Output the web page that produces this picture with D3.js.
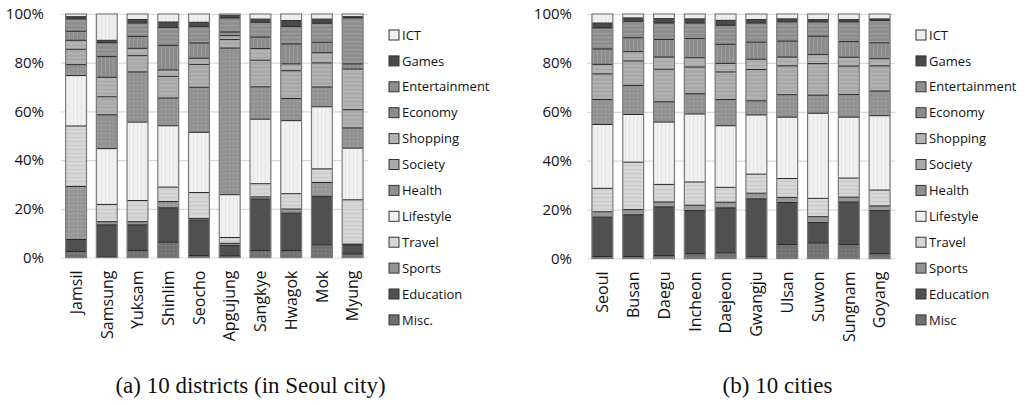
<!DOCTYPE html>
<html>
<head>
<meta charset="utf-8">
<script src="https://cdn.jsdelivr.net/npm/d3@7"></script>
<style>
  body { margin: 0; background: #fff; }
  svg { display: block; }
  .tick text { fill: #111; }
</style>
</head>
<body>
<svg id="chart" width="1027" height="405"></svg>
<script>
// stack order, bottom to top
const keys = ["Misc", "Education", "Sports", "Travel", "Lifestyle", "Health", "Society", "Shopping", "Economy", "Entertainment", "Games", "ICT"];

const districts = ["Jamsil", "Samsung", "Yuksam", "Shinlim", "Seocho", "Apgujung", "Sangkye", "Hwagok", "Mok", "Myung"];
const districtMisc          = [2.5, 0.3, 2.9, 6.3, 0.8, 0.7, 2.9, 2.9, 5.2, 1.5];
const districtEducation     = [4.9, 13.1, 10.5, 14.1, 14.5, 4.2, 21.1, 15.3, 19.9, 3.7];
const districtSports        = [21.8, 1.3, 1.3, 2.6, 0.7, 0.9, 0.9, 1.7, 5.7, 0.3];
const districtTravel        = [24.8, 7.1, 8.7, 5.9, 10.7, 2.4, 5.4, 6.3, 5.6, 18.2];
const districtLifestyle     = [20.7, 22.9, 32.2, 25.2, 24.7, 17.6, 26.5, 30.0, 25.5, 21.2];
const districtHealth        = [4.5, 13.9, 20.6, 11.4, 18.5, 60.2, 13.3, 9.1, 8.1, 8.3];
const districtSociety       = [6.3, 7.4, 6.7, 8.9, 9.4, 3.5, 10.9, 11.4, 9.9, 7.5];
const districtShopping      = [3.7, 8.0, 3.0, 2.6, 2.5, 1.6, 4.8, 2.8, 4.2, 16.7];
const districtEconomy       = [3.7, 8.5, 4.9, 10.1, 6.3, 1.5, 4.7, 8.2, 4.3, 2.1];
const districtEntertainment = [5.1, 5.7, 5.5, 7.4, 6.7, 5.8, 6.1, 7.2, 7.8, 18.9];
const districtGames         = [0.9, 1.0, 1.4, 2.2, 1.8, 1.1, 1.3, 2.4, 1.7, 0.5];
const districtICT           = [1.1, 10.8, 2.3, 3.3, 3.4, 0.5, 2.1, 2.7, 2.1, 1.1];

const cities = ["Seoul", "Busan", "Daegu", "Incheon", "Daejeon", "Gwangju", "Ulsan", "Suwon", "Sungnam", "Goyang"];
const cityMisc          = [0.8, 0.8, 1.2, 2.0, 2.3, 0.7, 5.7, 6.4, 5.7, 2.0];
const cityEducation     = [16.1, 17.1, 19.9, 17.6, 18.4, 23.7, 17.2, 8.3, 17.4, 17.6];
const citySports        = [2.2, 2.1, 2.0, 2.2, 2.3, 2.3, 2.1, 2.4, 2.0, 1.9];
const cityTravel        = [9.6, 19.4, 7.2, 9.5, 6.1, 7.8, 7.7, 7.5, 7.8, 6.5];
const cityLifestyle     = [26.1, 19.5, 25.5, 27.8, 25.2, 24.2, 25.1, 34.8, 24.9, 30.4];
const cityHealth        = [10.2, 11.9, 8.3, 8.3, 10.7, 5.8, 9.2, 7.4, 9.3, 10.1];
const citySociety       = [10.5, 10.0, 13.3, 10.9, 11.3, 12.8, 11.8, 12.9, 11.6, 10.3];
const cityShopping      = [3.9, 3.8, 5.0, 3.8, 3.5, 4.2, 3.6, 3.7, 3.6, 2.9];
const cityEconomy       = [6.3, 5.7, 7.2, 7.9, 7.8, 7.0, 6.5, 7.5, 6.4, 6.5];
const cityEntertainment = [8.6, 6.7, 6.7, 6.3, 7.8, 7.8, 7.9, 5.9, 8.1, 9.1];
const cityGames         = [2.0, 1.4, 1.8, 1.7, 2.0, 1.4, 1.2, 0.9, 0.9, 0.7];
const cityICT           = [3.7, 1.6, 1.9, 2.0, 2.6, 2.3, 2.0, 2.3, 2.3, 2.0];

const yTicks = [0, 0.2, 0.4, 0.6, 0.8, 1];
const legendA = ["ICT", "Games", "Entertainment", "Economy", "Shopping", "Society", "Health", "Lifestyle", "Travel", "Sports", "Education", "Misc."];
const legendB = ["ICT", "Games", "Entertainment", "Economy", "Shopping", "Society", "Health", "Lifestyle", "Travel", "Sports", "Education", "Misc"];

// build rows for d3.stack
function buildRows(cats, cols) {
    return cats.map((c, i) => {
        let row = { name: c };
        keys.forEach((k, j) => { row[k] = cols[j][i]; });
        return row;
    });
}
const districtRows = buildRows(districts, [districtMisc, districtEducation, districtSports, districtTravel, districtLifestyle,
    districtHealth, districtSociety, districtShopping, districtEconomy, districtEntertainment, districtGames, districtICT]);
const cityRows = buildRows(cities, [cityMisc, cityEducation, citySports, cityTravel, cityLifestyle,
    cityHealth, citySociety, cityShopping, cityEconomy, cityEntertainment, cityGames, cityICT]);

// grayscale fills, with a light texture like the original
const fills = {
    Misc:          { base: "#6e6e6e", alt: "#7c7c7c", kind: "x" },
    Education:     { base: "#505050", alt: "#555555", kind: "none" },
    Sports:        { base: "#939393", alt: "#a0a0a0", kind: "x" },
    Travel:        { base: "#d6d6d6", alt: "#c9c9c9", kind: "h" },
    Lifestyle:     { base: "#f1f1f1", alt: "#e5e5e5", kind: "v" },
    Health:        { base: "#8f8f8f", alt: "#9a9a9a", kind: "x" },
    Society:       { base: "#a9a9a9", alt: "#b6b6b6", kind: "h" },
    Shopping:      { base: "#b3b3b3", alt: "#a6a6a6", kind: "h" },
    Economy:       { base: "#8c8c8c", alt: "#9c9c9c", kind: "v" },
    Entertainment: { base: "#8e8e8e", alt: "#9e9e9e", kind: "h" },
    Games:         { base: "#4a4a4a", alt: "#4a4a4a", kind: "none" },
    ICT:           { base: "#efefef", alt: "#e4e4e4", kind: "v" }
};

const svg = d3.select("#chart");
const defs = svg.append("defs");
keys.forEach(k => {
    const f = fills[k];
    let p = defs.append("pattern")
        .attr("id", "pat-" + k)
        .attr("patternUnits", "userSpaceOnUse")
        .attr("width", 4).attr("height", 4);
    p.append("rect").attr("width", 4).attr("height", 4).attr("fill", f.base);
    if (f.kind === "h" || f.kind === "x")
        p.append("rect").attr("y", 1).attr("width", 4).attr("height", 1).attr("fill", f.alt);
    if (f.kind === "v" || f.kind === "x")
        p.append("rect").attr("x", 1).attr("width", 1).attr("height", 4).attr("fill", f.alt);
});

const charts = [
    { rows: districtRows, cats: districts, legend: legendA, left: 60.7, right: 368, top: 14, bottom: 257.5,
      tickRight: 44, legendX: 389, caption: "(a) 10 districts (in Seoul city)", captionX: 250.5 },
    { rows: cityRows, cats: cities, legend: legendB, left: 587, right: 895, top: 14, bottom: 258.5,
      tickRight: 572, legendX: 916, caption: "(b) 10 cities", captionX: 777.5 }
];

const stack = d3.stack().keys(keys).offset(d3.stackOffsetExpand);

charts.forEach(c => {
    let x = d3.scaleBand()
        .domain(c.cats)
        .range([c.left, c.right])
        .paddingInner(0.32)
        .paddingOuter(0.16);
    let y = d3.scaleLinear()
        .domain([0, 1])
        .range([c.bottom, c.top]);

    // gridlines + percent labels
    let yAxis = svg.append("g")
        .attr("transform", "translate(" + c.left + ",0)")
        .call(d3.axisLeft(y).tickValues(yTicks).tickFormat(d3.format(".0%"))
            .tickSize(-(c.right - c.left)).tickPadding(c.left - c.tickRight));
    yAxis.select(".domain").remove();
    yAxis.selectAll(".tick line").attr("stroke", "#d9d9d9").attr("stroke-width", 1.2);
    yAxis.selectAll(".tick text")
        .style("font-family", "'Open Sans', sans-serif")
        .style("font-size", "15px");

    const series = stack(c.rows);

    let g = svg.append("g");
    series.forEach(s => {
        g.selectAll(null)
            .data(s)
            .join("rect")
            .attr("x", d => x(d.data.name))
            .attr("width", x.bandwidth())
            .attr("y", d => y(d[1]))
            .attr("height", d => y(d[0]) - y(d[1]))
            .attr("fill", "url(#pat-" + s.key + ")");
    });
    // segment borders
    series.forEach(s => {
        g.selectAll(null)
            .data(s.filter(() => s.key !== "ICT"))
            .join("line")
            .attr("x1", d => x(d.data.name))
            .attr("x2", d => x(d.data.name) + x.bandwidth())
            .attr("y1", d => y(d[1]))
            .attr("y2", d => y(d[1]))
            .attr("stroke", "#262626")
            .attr("stroke-width", 1);
    });
    // bar outlines
    g.selectAll(null)
        .data(c.cats)
        .join("rect")
        .attr("x", d => x(d))
        .attr("y", y(1))
        .attr("width", x.bandwidth())
        .attr("height", y(0) - y(1))
        .attr("fill", "none")
        .attr("stroke", "#7a7a7a")
        .attr("stroke-width", 1.2);

    // rotated category labels
    let xAxis = svg.append("g")
        .attr("transform", "translate(0," + c.bottom + ")")
        .call(d3.axisBottom(x).tickSize(0));
    xAxis.select(".domain").remove();
    xAxis.selectAll(".tick text")
        .attr("transform", "rotate(-90)")
        .attr("x", -13)
        .attr("y", 0)
        .attr("dy", "0.36em")
        .style("text-anchor", "end")
        .style("font-family", "'Open Sans', sans-serif")
        .style("font-size", "16px");

    // legend
    let lg = svg.append("g");
    let item = lg.selectAll(null)
        .data(c.legend)
        .join("g")
        .attr("transform", (d, i) => "translate(" + c.legendX + "," + (35 + i * 25.9) + ")");
    item.append("rect")
        .attr("x", 0).attr("y", -5)
        .attr("width", 10).attr("height", 10)
        .attr("fill", (d, i) => fills[keys[keys.length - 1 - i]].base)
        .attr("stroke", "#333")
        .attr("stroke-width", 1);
    item.append("text")
        .attr("x", 13)
        .attr("dy", "0.36em")
        .style("font-family", "'Open Sans', sans-serif")
        .style("font-size", "13px")
        .style("fill", "#111")
        .text(d => d);

    // caption
    svg.append("text")
        .attr("x", c.captionX)
        .attr("y", 393)
        .attr("text-anchor", "middle")
        .style("font-family", "'Liberation Serif', serif")
        .style("font-size", "23px")
        .style("fill", "#111")
        .text(c.caption);
});
</script>
</body>
</html>
